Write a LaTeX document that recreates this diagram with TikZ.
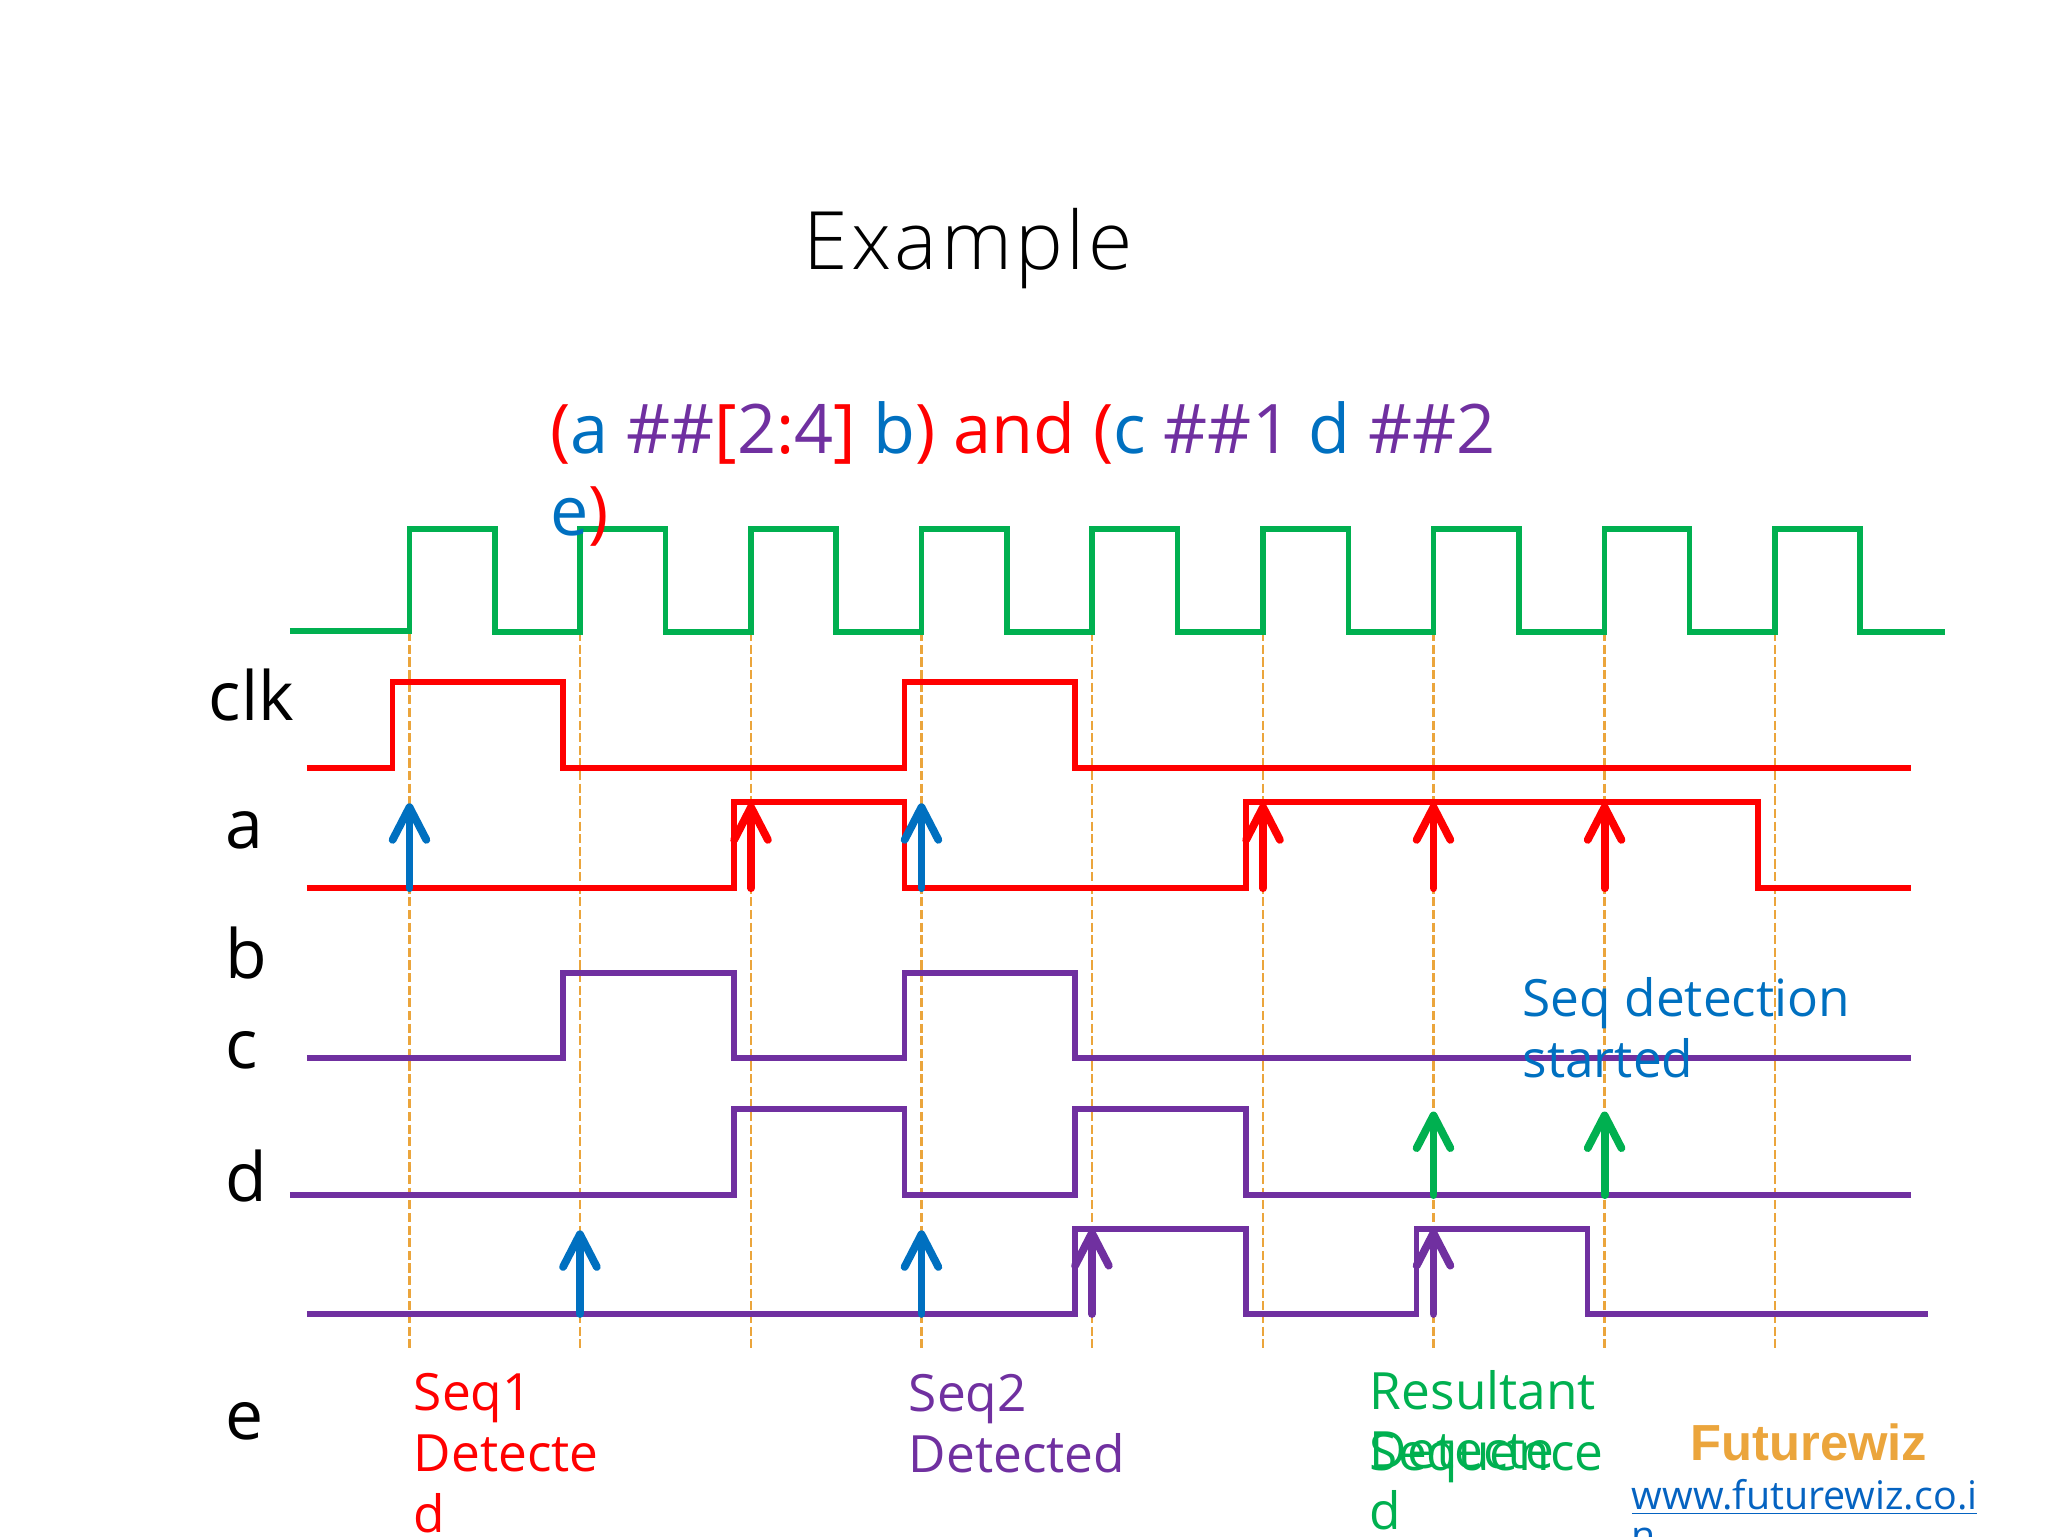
\documentclass[tikz,border=0pt]{standalone}
\usepackage{fontspec}
\setmainfont{Open Sans}
\newfontfamily\titlefont{Open Sans Light}
\newfontfamily\logofont{Liberation Sans}
\usetikzlibrary{arrows.meta}
\definecolor{wgreen}{HTML}{00B050}
\definecolor{wred}{HTML}{FF0000}
\definecolor{wpurple}{HTML}{7030A0}
\definecolor{wblue}{HTML}{0070C0}
\definecolor{worange}{HTML}{EBA53C}
\definecolor{wlink}{HTML}{0563C1}
\tikzset{
  trace/.style={line width=2.6pt,line join=miter},
  guide/.style={worange,line width=1.3pt,dash pattern=on 4.2pt off 1.6pt},
  sample/.style={line width=3.6pt,line cap=round,-{Straight Barb[length=15pt,width=15.5pt,line width=3.6pt,round]}},
  signame/.style={anchor=base west,inner sep=0pt,font=\fontsize{31.2}{36}\selectfont},
  note/.style={anchor=base west,inner sep=0pt,align=left,font=\fontsize{23.6}{28}\selectfont}
}
\begin{document}
\begin{tikzpicture}[x=0.6pt,y=-0.6pt]
  \useasboundingbox (0,0) rectangle (1568,1176);

  % clock edges
  \foreach \x in {313.5,444,575,705.5,836,967,1097.5,1228.5,1359}
    \draw[guide] (\x,484) -- (\x,1032);

  % waveforms
  \draw[trace,wgreen] (222,483) -- (313.5,483) -- (313.5,405) -- (379,405) -- (379,484) -- (444,484)
    -- (444,405) -- (509.5,405) -- (509.5,484) -- (575,484)
    -- (575,405) -- (640,405) -- (640,484) -- (705.5,484)
    -- (705.5,405) -- (771,405) -- (771,484) -- (836,484)
    -- (836,405) -- (901.5,405) -- (901.5,484) -- (967,484)
    -- (967,405) -- (1032.5,405) -- (1032.5,484) -- (1097.5,484)
    -- (1097.5,405) -- (1163,405) -- (1163,484) -- (1228.5,484)
    -- (1228.5,405) -- (1293.5,405) -- (1293.5,484) -- (1359,484)
    -- (1359,405) -- (1424,405) -- (1424,484) -- (1489,484);
  \draw[trace,wred] (235,588) -- (300.5,588) -- (300.5,522) -- (431,522) -- (431,588)
    -- (692.5,588) -- (692.5,522) -- (823,522) -- (823,588) -- (1463,588);
  \draw[trace,wred] (235,680) -- (562,680) -- (562,614) -- (692.5,614) -- (692.5,680)
    -- (954,680) -- (954,614) -- (1346,614) -- (1346,680) -- (1463,680);
  \draw[trace,wpurple] (235,810) -- (431,810) -- (431,745) -- (562,745) -- (562,810)
    -- (692.5,810) -- (692.5,745) -- (823,745) -- (823,810) -- (1463,810);
  \draw[trace,wpurple] (222,915) -- (562,915) -- (562,849) -- (692.5,849) -- (692.5,915)
    -- (823,915) -- (823,849) -- (954,849) -- (954,915) -- (1463,915);
  \draw[trace,wpurple] (235,1006) -- (823,1006) -- (823,941) -- (954,941) -- (954,1006)
    -- (1084.5,1006) -- (1084.5,941) -- (1215.5,941) -- (1215.5,1006) -- (1476,1006);

  % sampling arrows
  \foreach \c/\x/\ya/\yb in {wblue/313.5/680/615,wred/575/680/615,wblue/705.5/680/615,
      wred/967/680/615,wred/1097.5/680/615,wred/1228.5/680/615,
      wgreen/1097.5/915/851,wgreen/1228.5/915/851,
      wblue/444/1006/942,wblue/705.5/1006/942,wpurple/836/1006/941,wpurple/1097.5/1006/941}
    \draw[sample,\c] (\x,\ya) -- (\x,\yb);

  % title and property
  \node[anchor=base west,inner sep=0pt,font=\titlefont\fontsize{37}{44}\selectfont\addfontfeature{LetterSpace=4.2}] (title) at (615,206) {Example};
  \node[anchor=base west,inner sep=0pt,align=left,font=\fontsize{31.4}{37.8}\selectfont] (prop) at (421,410)
    {\textcolor{wred}{(}\textcolor{wblue}{a} \textcolor{wpurple}{\#\#}\textcolor{wred}{[}\textcolor{wpurple}{2}\textcolor{wred}{:}\textcolor{wpurple}{4}\textcolor{wred}{]} \textcolor{wblue}{b}\textcolor{wred}{) and (}\textcolor{wblue}{c} \textcolor{wpurple}{\#\#1} \textcolor{wblue}{d} \textcolor{wpurple}{\#\#2}\\
     \textcolor{wblue}{e}\textcolor{wred}{)}};

  % signal names
  \node[signame] (lclk) at (159.5,552) {clk};
  \node[signame] (la) at (172.5,650) {a};
  \node[signame] (lb) at (172.5,749) {b};
  \node[signame] (lc) at (172.5,818) {c};
  \node[signame] (ld) at (172.5,920) {d};
  \node[signame] (le) at (172.5,1102) {e};

  % notes
  \node[note,text=wblue] (nstart) at (1165.5,825) {Seq detection\\started};
  \node[note,text=wred] (nseq1) at (316.5,1173) {Seq1\\Detecte\\d};
  \node[note,text=wpurple] (nseq2) at (695.5,1127) {Seq2\\Detected};
  \node[note,text=wgreen] (nres) at (1048.5,1126) {Resultant\\Sequence};
  \node[note,text=wgreen] (ndet) at (1048.5,1171) {Detecte\\d};

  % logo
  \node[anchor=base west,inner sep=0pt,text=worange,font=\logofont\bfseries\fontsize{23.3}{28}\selectfont] (logo) at (1294,1118) {Futurewiz};
  \node[anchor=base west,inner sep=0pt,align=left,text=wlink,font=\fontsize{18.1}{18}\selectfont] (site) at (1249,1186) {\underline{www.futurewiz.co.i}\\\underline{n}};
\end{tikzpicture}
\end{document}
